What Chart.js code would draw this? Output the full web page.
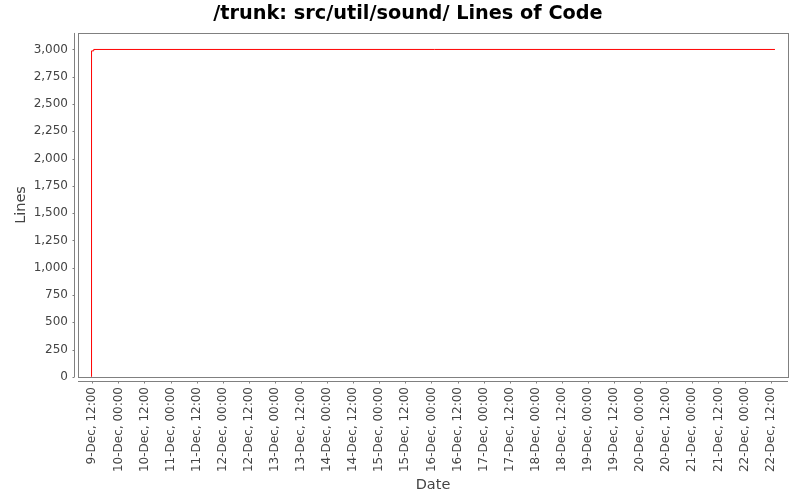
<!DOCTYPE html>
<html>
<head>
<meta charset="utf-8">
<script src="https://cdn.jsdelivr.net/npm/chart.js@4"></script>
<style>
  html, body { margin: 0; padding: 0; background: #fff; }
  canvas { display: block; }
</style>
</head>
<body>
<canvas id="chart" width="800" height="500"></canvas>
<script>
// hours counted from 9-Dec 00:00
const dateHours = [11.63, 11.65, 12.65, 326];
const lineCounts = [0, 2987, 3000, 3000];

const tickHours = [12, 24, 36, 48, 60, 72, 84, 96, 108, 120, 132, 144, 156, 168,
    180, 192, 204, 216, 228, 240, 252, 264, 276, 288, 300, 312, 324];
const tickLabels = [
    '9-Dec, 12:00', '10-Dec, 00:00', '10-Dec, 12:00', '11-Dec, 00:00', '11-Dec, 12:00',
    '12-Dec, 00:00', '12-Dec, 12:00', '13-Dec, 00:00', '13-Dec, 12:00', '14-Dec, 00:00',
    '14-Dec, 12:00', '15-Dec, 00:00', '15-Dec, 12:00', '16-Dec, 00:00', '16-Dec, 12:00',
    '17-Dec, 00:00', '17-Dec, 12:00', '18-Dec, 00:00', '18-Dec, 12:00', '19-Dec, 00:00',
    '19-Dec, 12:00', '20-Dec, 00:00', '20-Dec, 12:00', '21-Dec, 00:00', '21-Dec, 12:00',
    '22-Dec, 00:00', '22-Dec, 12:00'
];
const yTicks = [0, 250, 500, 750, 1000, 1250, 1500, 1750, 2000, 2250, 2500, 2750, 3000];

const gray = '#808080';
const textColor = '#444444';
const tickFont = { family: 'DejaVu Sans', size: 12 };

// frame + offset axis lines like the original plot
const framePlugin = {
    id: 'frame',
    afterDatasetsDraw(chart) {
        const { ctx, chartArea: a, scales } = chart;
        ctx.save();
        ctx.strokeStyle = gray;
        ctx.lineWidth = 1;
        ctx.strokeRect(Math.round(a.left) + 0.5, Math.round(a.top) + 0.5,
            Math.round(a.right - a.left), Math.round(a.bottom - a.top));

        const ax = Math.round(a.left) - 4 + 0.5;
        ctx.beginPath();
        ctx.moveTo(ax, a.top);
        ctx.lineTo(ax, a.bottom);
        scales.y.ticks.forEach(function(t) {
            const y = Math.round(scales.y.getPixelForValue(t.value)) + 0.5;
            ctx.moveTo(ax - 2, y);
            ctx.lineTo(ax, y);
        });
        const ay = Math.round(a.bottom) + 4 + 0.5;
        ctx.moveTo(a.left, ay);
        ctx.lineTo(a.right, ay);
        scales.x.ticks.forEach(function(t) {
            const x = Math.round(scales.x.getPixelForValue(t.value)) + 0.5;
            ctx.moveTo(x, ay);
            ctx.lineTo(x, ay + 2);
        });
        ctx.stroke();
        ctx.restore();
    }
};

new Chart(document.getElementById('chart'), {
    type: 'line',
    data: {
        datasets: [{
            data: dateHours.map(function(h, i) { return { x: h, y: lineCounts[i] }; }),
            borderColor: '#ff0000',
            borderWidth: 1,
            pointRadius: 0,
            stepped: 'before',
            fill: false,
        }],
    },
    options: {
        responsive: false,
        animation: false,
        devicePixelRatio: 1,
        // left padding shifts the title centre to match the original
        layout: { padding: { left: 28, right: 12, top: 0, bottom: 0 } },
        plugins: {
            legend: { display: false },
            tooltip: { enabled: false },
            title: {
                display: true,
                text: '/trunk: src/util/sound/ Lines of Code',
                color: '#000',
                font: { family: 'DejaVu Sans', size: 19.3, weight: 'bold' },
                padding: { top: 2, bottom: 7.8 },
            },
        },
        scales: {
            x: {
                type: 'linear',
                min: 5.42,
                max: 332,
                grid: { display: false, drawTicks: false },
                border: { display: false },
                afterBuildTicks: function(s) { s.ticks = tickHours.map(function(v) { return { value: v }; }); },
                afterFit: function(s) { s.height = 123; },
                ticks: {
                    autoSkip: false,
                    minRotation: 90,
                    maxRotation: 90,
                    padding: 10,
                    color: textColor,
                    font: tickFont,
                    callback: function(v) { return tickLabels[tickHours.indexOf(v)]; },
                },
                title: {
                    display: true,
                    text: 'Date',
                    color: textColor,
                    font: { family: 'DejaVu Sans', size: 14.5 },
                    padding: { top: 0, bottom: 6 },
                },
            },
            y: {
                min: -2,
                max: 3151.3,
                grid: { display: false, drawTicks: false },
                border: { display: false },
                afterBuildTicks: function(s) { s.ticks = yTicks.map(function(v) { return { value: v }; }); },
                afterFit: function(s) { s.width = 50; },
                ticks: {
                    padding: 10,
                    color: textColor,
                    font: tickFont,
                    callback: function(v) { return v.toLocaleString('en-US'); },
                },
                title: {
                    display: true,
                    text: 'Lines',
                    color: textColor,
                    font: { family: 'DejaVu Sans', size: 14.5 },
                    padding: { top: -15, bottom: 0 },
                },
            },
        },
    },
    plugins: [framePlugin],
});
</script>
</body>
</html>
